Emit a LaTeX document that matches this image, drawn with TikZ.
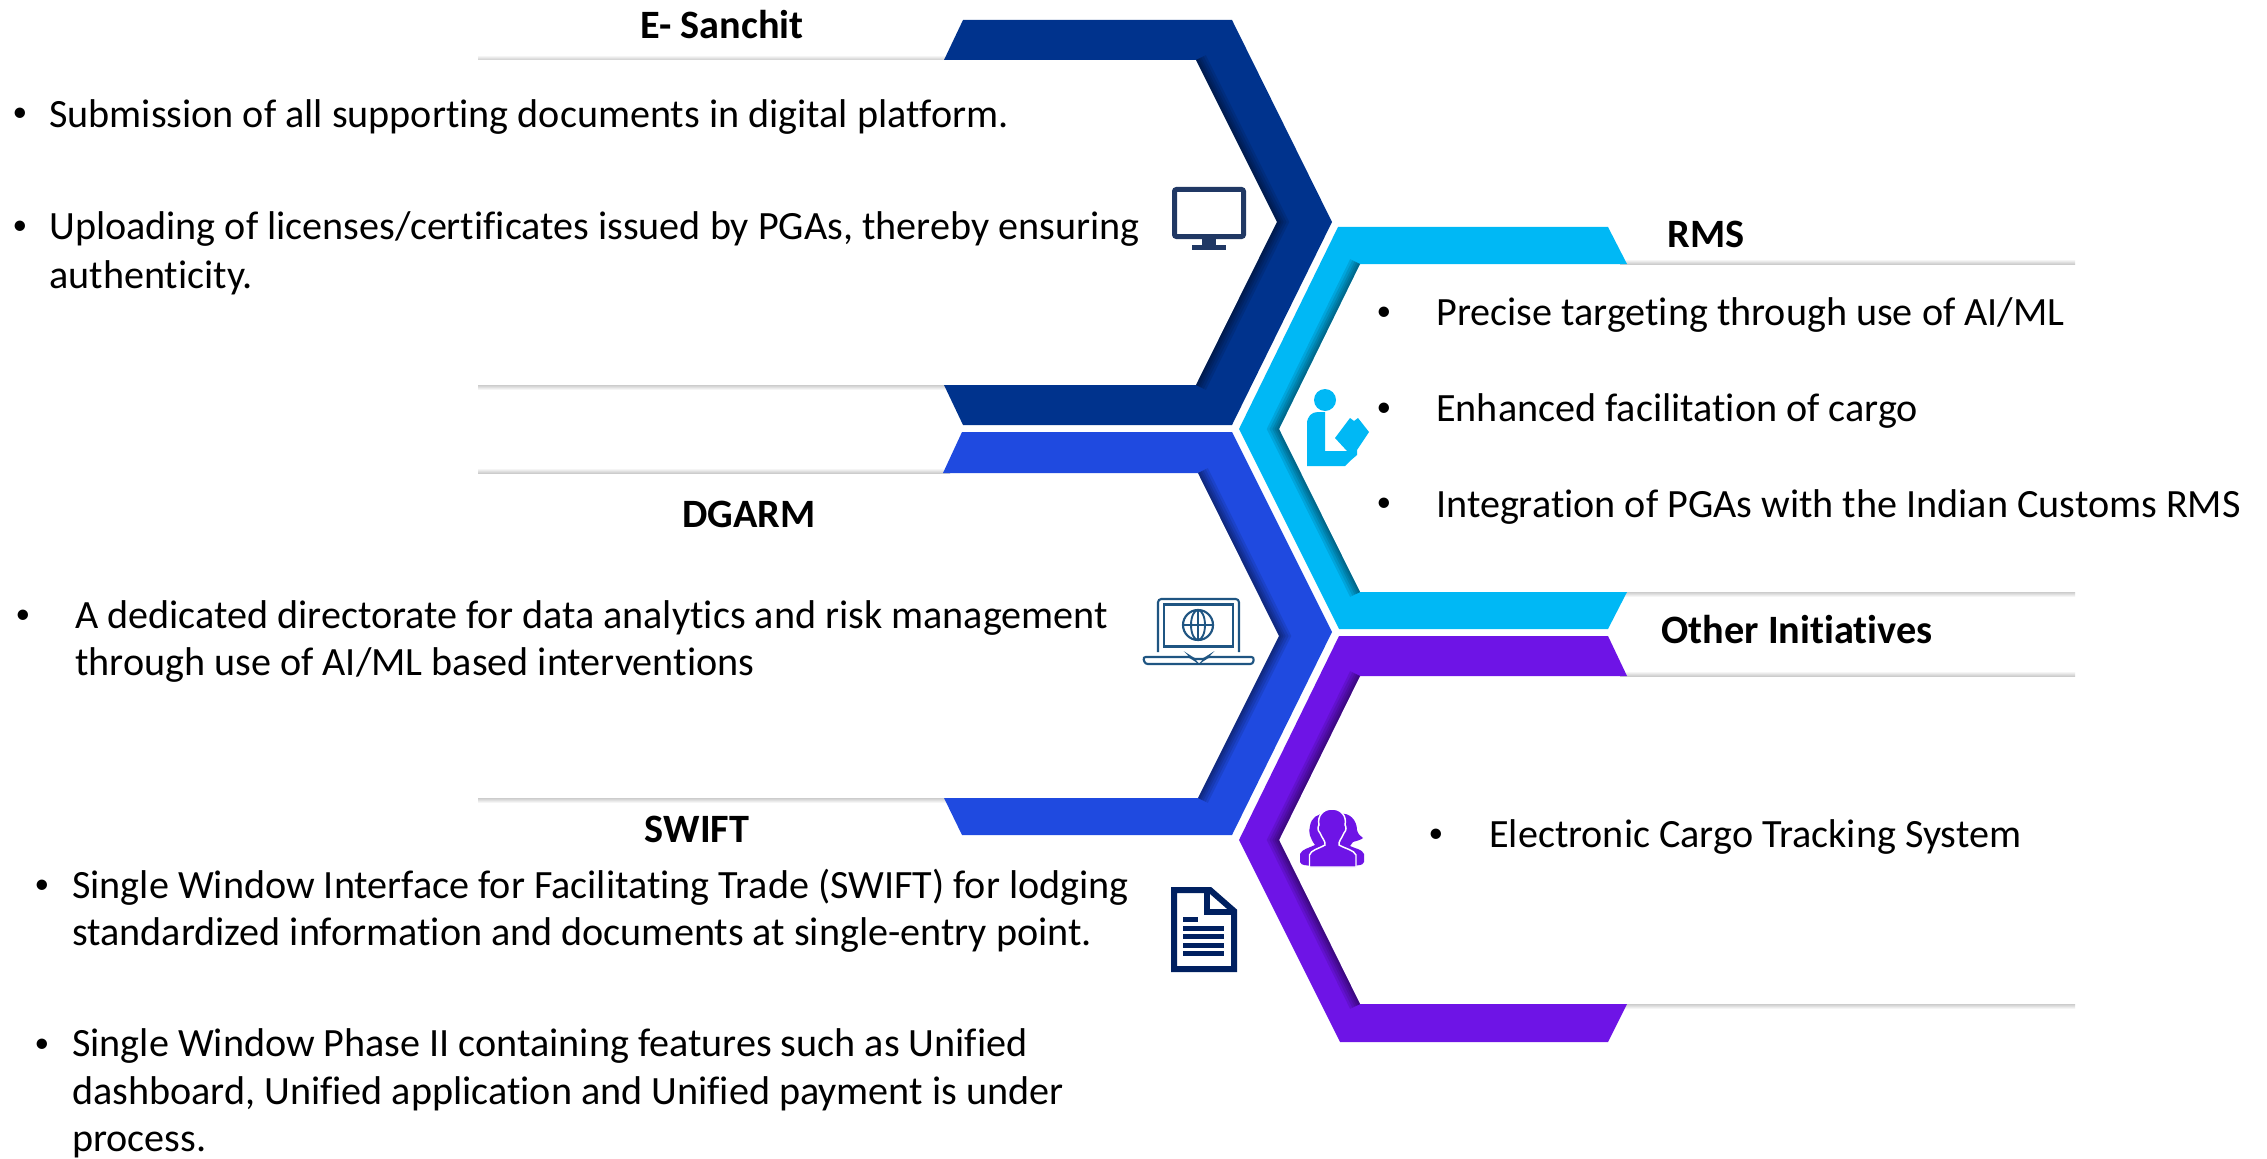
\documentclass[tikz,border=0pt]{standalone}
\usepackage{fontspec}
\setmainfont{Carlito}[Ligatures=NoCommon]
\usetikzlibrary{calc}
\definecolor{navyband}{HTML}{00338D}
\definecolor{blueband}{HTML}{1F4AE0}
\definecolor{cyanband}{HTML}{00B8F5}
\definecolor{purpleband}{HTML}{6E14E6}
\definecolor{monitorc}{HTML}{203864}
\definecolor{laptopc}{HTML}{1F5582}
\definecolor{docc}{HTML}{002060}
\definecolor{rulegrey}{HTML}{CCCCCC}
\tikzset{
  x=0.75pt,y=-0.75pt,
  body/.style={inner sep=0pt,anchor=base west,align=left,font=\fontsize{30.1}{35.7}\selectfont,text=black},
  bul/.style={inner sep=0pt,anchor=base,font=\fontsize{22}{26}\selectfont,text=black},
  head/.style={inner sep=0pt,anchor=center,font=\fontsize{30.2}{36}\selectfont\bfseries,text=black},
  edgeup/.style={top color=white,bottom color=rulegrey,draw=none},
  edgedown/.style={top color=rulegrey,bottom color=white,draw=none},
}
\newcommand{\bandshadow}[2]{%
  \foreach \w in {22,17,12,8,4}{\draw[#1,opacity=.10,line width=\w*0.75pt,line join=miter] #2;}}
\begin{document}
\begin{tikzpicture}
\useasboundingbox (0,0) rectangle (2267,1159);
\fill[white] (0,0) rectangle (2267,1159);
% panel edge lines
\shade[edgeup] (478,55) rectangle (950,60);
\shade[edgedown] (478,385) rectangle (950,390);
\shade[edgeup] (478,468) rectangle (950,473);
\shade[edgedown] (478,798) rectangle (950,803);
\shade[edgeup] (1620,259) rectangle (2075,264);
\shade[edgedown] (1620,592) rectangle (2075,597);
\shade[edgeup] (1620,671) rectangle (2075,676);
\shade[edgedown] (1620,1004) rectangle (2075,1009);
% E-Sanchit band
\fill[navyband] (963,20)--(1232,20)--(1332,222)--(1232,425)--(963,425)--(944,385)--(1196,385)--(1277,222)--(1196,60)--(944,60)--cycle;
\begin{scope}
\clip (963,20)--(1232,20)--(1332,222)--(1232,425)--(963,425)--(944,385)--(1196,385)--(1277,222)--(1196,60)--(944,60)--cycle;
\bandshadow{black}{(1196,60)--(1277,222)--(1196,385)}
\end{scope}
% DGARM band
\fill[blueband] (962,432)--(1232,432)--(1332,632)--(1232,835)--(962,835)--(944,798)--(1198,798)--(1279,636)--(1198,473)--(943,473)--cycle;
\begin{scope}
\clip (962,432)--(1232,432)--(1332,632)--(1232,835)--(962,835)--(944,798)--(1198,798)--(1279,636)--(1198,473)--(943,473)--cycle;
\bandshadow{black}{(1198,473)--(1279,636)--(1198,798)}
\end{scope}
% RMS band
\fill[cyanband] (1338,227)--(1608,227)--(1627,264)--(1360,264)--(1279,429)--(1360,592)--(1627,592)--(1608,629)--(1339,629)--(1239,429)--cycle;
\begin{scope}
\clip (1338,227)--(1608,227)--(1627,264)--(1360,264)--(1279,429)--(1360,592)--(1627,592)--(1608,629)--(1339,629)--(1239,429)--cycle;
\bandshadow{black}{(1360,264)--(1279,429)--(1360,592)}
\end{scope}
% Other band
\fill[purpleband] (1339,636)--(1608,636)--(1627,676)--(1360,676)--(1279,840)--(1360,1004)--(1627,1004)--(1608,1042)--(1340,1042)--(1239,840)--cycle;
\begin{scope}
\clip (1339,636)--(1608,636)--(1627,676)--(1360,676)--(1279,840)--(1360,1004)--(1627,1004)--(1608,1042)--(1340,1042)--(1239,840)--cycle;
\bandshadow{black}{(1360,676)--(1279,840)--(1360,1004)}
\end{scope}
% monitor icon
\draw[monitorc,line width=3.75pt,rounded corners=1.5pt] (1174.5,189.5) rectangle (1243.5,236.5);
\fill[monitorc] (1202,238) rectangle (1216,245);
\fill[monitorc] (1192,245) rectangle (1226,250);
% reader icon
\fill[cyanband] (1325,400) circle[radius=11];
\fill[cyanband] (1307,466)--(1307,424) .. controls (1307,416) and (1312,412) .. (1318,412)--(1325,412)--(1325,451)--(1347,451)--(1335,438)--(1350,418)--(1354,421)--(1358,418)--(1369,432)--(1357,450)--(1357,455)--(1350,461)--(1345,466)--cycle;
% laptop icon
\draw[laptopc,line width=1.6pt,rounded corners=2.5pt] (1158,652)--(1158,599)--(1239,599)--(1239,652);
\draw[laptopc,line width=1.6pt] (1164,604.5) rectangle (1233,646.5);
\draw[laptopc,line width=1.6pt] (1198,625) circle[radius=15];
\draw[laptopc,line width=1.4pt] (1183,625)--(1213,625) (1198,610)--(1198,640);
\draw[laptopc,line width=1.4pt] (1198,625) ellipse[x radius=7,y radius=15];
\draw[laptopc,line width=1.6pt,rounded corners=2pt] (1143,657)--(1191,657)--(1193,659)--(1205,659)--(1207,657)--(1254,657)--(1253,664)--(1145,664)--cycle;
% document icon
\draw[docc,line width=4.5pt,line join=miter] (1174,890)--(1210,890)--(1234,911)--(1234,969)--(1174,969)--cycle;
\draw[docc,line width=4.5pt] (1207,888)--(1207,912)--(1236,912);
\fill[docc] (1183,917) rectangle (1198,922);
\fill[docc] (1183,926) rectangle (1224,931);
\fill[docc] (1183,934) rectangle (1224,939);
\fill[docc] (1183,943) rectangle (1224,948);
\fill[docc] (1183,951) rectangle (1224,956);
% people icon
\fill[purpleband] (1300,862)--(1300,854) .. controls (1302,849) and (1309,848) .. (1315,845) .. controls (1310,838) and (1308,832) .. (1310,826) .. controls (1311,818) and (1318,813) .. (1325,814)--(1340,814) .. controls (1349,812) and (1357,820) .. (1357,830) .. controls (1358,834) and (1360,836) .. (1363,838) .. controls (1361,840) and (1356,841) .. (1353,842)--(1350,846) .. controls (1356,849) and (1362,849) .. (1364,854)--(1364,862) .. controls (1364,866) and (1355,866) .. (1332,866) .. controls (1310,866) and (1300,866) .. (1300,862)--cycle;
\draw[white,fill=purpleband,line width=1.1pt] (1309.5,867)--(1309.5,855) .. controls (1311,850) and (1318,849) .. (1325,845) .. controls (1326,842) and (1322,838) .. (1320,833) .. controls (1317,830) and (1318,826) .. (1319,825) .. controls (1317,816) and (1323,809) .. (1332,809) .. controls (1341,809) and (1347,816) .. (1345,825) .. controls (1346,826) and (1347,830) .. (1344,833) .. controls (1342,838) and (1338,842) .. (1339,845) .. controls (1346,849) and (1354,850) .. (1356,855)--(1356,867)--cycle;
% bullets and text
\node[head] (t1) at (722,25) {E- Sanchit};
\node[bul] (b1a) at (20,122) {•};
\node[body] (s1a) at (49,128) {Submission of all supporting documents in digital platform.};
\node[bul] (b1b) at (20,234) {•};
\node[body,anchor=north west] (s1b) at (49,209) {\rule{0pt}{22.5pt}Uploading of licenses/certificates issued by PGAs, thereby ensuring\\[1pt]authenticity.};
\node[head] (t2) at (1706,234) {RMS};
\node[bul] (b2a) at (1384,320) {•};
\node[body] (s2a) at (1436,325) {Precise targeting through use of AI/ML};
\node[bul] (b2b) at (1384,416) {•};
\node[body] (s2b) at (1436,421) {Enhanced facilitation of cargo};
\node[bul] (b2c) at (1384,511) {•};
\node[body] (s2c) at (1436,517) {Integration of PGAs with the Indian Customs RMS};
\node[head] (t3) at (749,514) {DGARM};
\node[bul] (b3) at (23,623) {•};
\node[body,anchor=north west] (s3) at (75,598) {\rule{0pt}{22.5pt}A dedicated directorate for data analytics and risk management\\through use of AI/ML based interventions};
\node[head] (t4) at (1797,630) {Other Initiatives};
\node[bul] (b4) at (1436,842) {•};
\node[body] (s4) at (1489,847) {Electronic Cargo Tracking System};
\node[head] (t5) at (697,829) {SWIFT};
\node[bul] (b5a) at (42,893) {•};
\node[body,anchor=north west] (s5a) at (72,868) {\rule{0pt}{22.5pt}Single Window Interface for Facilitating Trade (SWIFT) for lodging\\standardized information and documents at single-entry point.};
\node[bul] (b5b) at (42,1052) {•};
\node[body,anchor=north west] (s5b) at (72,1026.5) {\rule{0pt}{22.5pt}Single Window Phase II containing features such as Unified\\dashboard, Unified application and Unified payment is under\\process.};
\end{tikzpicture}
\end{document}
